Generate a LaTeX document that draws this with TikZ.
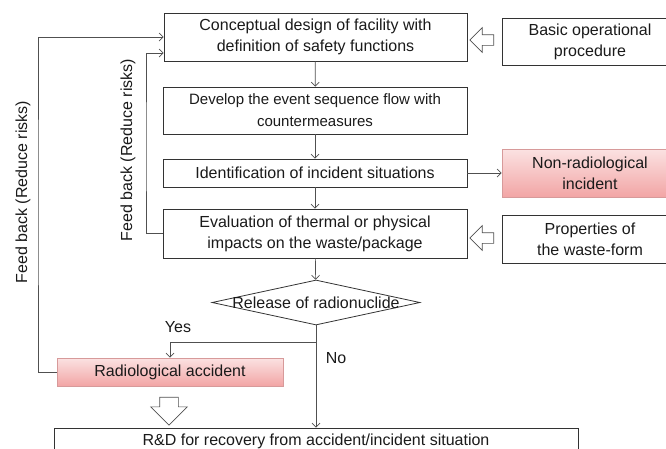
\documentclass[tikz,border=0pt]{standalone}
\usepackage{fontspec}
\setmainfont{Liberation Sans}
\usetikzlibrary{arrows.meta,shapes.geometric,shapes.arrows}
\definecolor{linegray}{HTML}{505050}
\definecolor{pinktop}{HTML}{FBE2E2}
\definecolor{pinkbot}{HTML}{F2A5A5}
\definecolor{pinkline}{HTML}{D79A9A}
\definecolor{txtgray}{HTML}{1A1A1A}
\begin{document}
\begin{tikzpicture}[x=1pt, y=-1pt, font=\fontsize{16pt}{21pt}\selectfont, text=txtgray]
	\tikzset{box/.style = {draw=black!80, line width=0.8pt, align=center, inner sep=0pt},
		alarm/.style = {box, draw=pinkline, top color=pinktop, bottom color=pinkbot},
		arr/.style = {draw=linegray, line width=0.7pt, -{Straight Barb[length=4pt, width=8pt]}},
		hollow/.style = {single arrow, draw=linegray, line width=0.7pt, inner sep=5pt, minimum height=24pt, single arrow head extend=7pt}}
	\useasboundingbox (0,0) rectangle (666,448);
	\clip (0,0) rectangle (666,448);
	\node[box, minimum width=303pt, minimum height=48pt] (concept) at (315.5, 37) {Conceptual design of facility with\\definition of safety functions};
	\node[box, minimum width=304pt, minimum height=47pt, font=\fontsize{15pt}{22pt}\selectfont] (develop) at (315, 110.5) {Develop the event sequence flow with\\countermeasures};
	\node[box, minimum width=304pt, minimum height=28pt] (ident) at (315, 173) {Identification of incident situations};
	\node[box, minimum width=304pt, minimum height=49pt] (evalu) at (315, 233.5) {Evaluation of thermal or physical\\impacts on the waste/package};
	\node[diamond, draw=black!80, line width=0.8pt, inner sep=0pt, minimum width=208pt, minimum height=45pt, label=center:{Release of radionuclide}] (release) at (316, 302.5) {};
	\node[alarm, minimum width=226pt, minimum height=28pt] (radacc) at (170, 372) {Radiological accident};
	\node[box, minimum width=524pt, minimum height=26pt] (rnd) at (316, 441) {R\&D for recovery from accident/incident situation};
	\node[box, minimum width=176pt, minimum height=47pt] (basic) at (590, 41.5) {Basic operational\\procedure};
	\node[alarm, minimum width=176pt, minimum height=48pt] (nonrad) at (590, 173) {Non-radiological\\incident};
	\node[box, minimum width=176pt, minimum height=48pt] (props) at (590, 239) {Properties of\\the waste-form};
	\node[hollow, shape border rotate=180] (inA) at (484.5, 40) {};
	\node[hollow, shape border rotate=180] (inB) at (484.5, 238) {};
	\node[hollow, shape border rotate=270, inner sep=9pt, single arrow head extend=9pt, minimum height=25pt] (outR) at (169, 406.5) {};
	\node (yes) at (178, 327) {Yes};
	\node (no) at (336, 358) {No};
	\node[rotate=90] (fbolabel) at (23, 192) {Feed back (Reduce risks)};
	\node[rotate=90] (fbilabel) at (128, 150) {Feed back (Reduce risks)};
	\coordinate (yesturn) at (170, 342);
	\coordinate (fbo) at (38, 200);
	\coordinate (fbi) at (146, 150);
	\draw[arr] (concept) -- (develop);
	\draw[arr] (develop) -- (ident);
	\draw[arr] (ident) -- (evalu);
	\draw[arr] (evalu) -- (release);
	\draw[arr] (ident) -- (nonrad);
	\draw[arr] (release.south) |- (yesturn) -- (radacc.north);
	\draw[arr] (release.south) -- (rnd.north);
	\draw[arr] (radacc.west) -| (fbo) |- (concept.west);
	\draw[arr] (evalu.west) -| (fbi) |- ([yshift=-16pt]concept.west);
\end{tikzpicture}
\end{document}
